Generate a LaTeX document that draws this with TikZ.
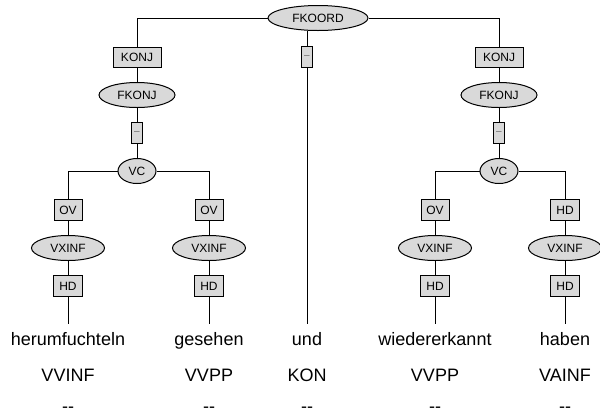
\documentclass[tikz,border=0pt]{standalone}
\usepackage{fontspec}
\setmainfont{Liberation Sans}
\usetikzlibrary{shapes.geometric}
\begin{document}
\begin{tikzpicture}[x=1pt,y=-1pt,line width=1pt,
  cat/.style={ellipse,draw,fill=black!15,inner sep=0pt,minimum height=25pt,font=\fontsize{12}{14}\selectfont},
  fn/.style={rectangle,draw,fill=black!15,inner sep=0pt,minimum height=21pt,font=\fontsize{12}{14}\selectfont},
  dashbox/.style={fn,minimum width=11pt,font=\fontsize{10}{12}\selectfont\color{black!60}},
  word/.style={font=\fontsize{18}{21}\selectfont,text height=13pt,text depth=4pt,inner xsep=0pt,inner ysep=8pt,anchor=base},
  tag/.style={font=\fontsize{18}{21}\selectfont,inner sep=0pt,anchor=base}]
\useasboundingbox (0,0) rectangle (600,416);
% top
\node[cat,minimum width=100pt] (fkoord) at (318,18) {FKOORD};
\node[fn,minimum width=48pt,minimum height=20pt] (konjL) at (137,57) {KONJ};
\node[dashbox] (dashM) at (307,57) {–};
\node[fn,minimum width=48pt,minimum height=20pt] (konjR) at (499,57) {KONJ};
% left conjunct
\node[cat,minimum width=76pt] (fkonjL) at (137,95) {FKONJ};
\node[dashbox] (dashL) at (137,133) {–};
\node[cat,minimum width=38pt] (vcL) at (137,171) {VC};
\node[fn,minimum width=28pt] (ovL1) at (68,210) {OV};
\node[cat,minimum width=73pt] (vxL1) at (68,248) {VXINF};
\node[fn,minimum width=29pt] (hdL1) at (68,286) {HD};
\node[fn,minimum width=28pt] (ovL2) at (209,210) {OV};
\node[cat,minimum width=73pt] (vxL2) at (209,248) {VXINF};
\node[fn,minimum width=29pt] (hdL2) at (209,286) {HD};
% right conjunct
\node[cat,minimum width=76pt] (fkonjR) at (499,95) {FKONJ};
\node[dashbox] (dashR) at (499,133) {–};
\node[cat,minimum width=38pt] (vcR) at (499,171) {VC};
\node[fn,minimum width=28pt] (ovR1) at (435,210) {OV};
\node[cat,minimum width=73pt] (vxR1) at (435,248) {VXINF};
\node[fn,minimum width=29pt] (hdR1) at (435,286) {HD};
\node[fn,minimum width=29pt] (hdR2) at (565,210) {HD};
\node[cat,minimum width=73pt] (vxR2) at (565,248) {VXINF};
\node[fn,minimum width=29pt] (hdR3) at (565,286) {HD};
% words
\node[word] (w1) at (68,345) {herumfuchteln};
\node[word] (w2) at (209,345) {gesehen};
\node[word] (w3) at (307,345) {und};
\node[word] (w4) at (435,345) {wiedererkannt};
\node[word] (w5) at (565,345) {haben};
\node[tag] (t1) at (68,381) {VVINF};
\node[tag] (t2) at (209,381) {VVPP};
\node[tag] (t3) at (307,381) {KON};
\node[tag] (t4) at (435,381) {VVPP};
\node[tag] (t5) at (565,381) {VAINF};
\node[tag] (d1) at (68,412) {-{}-};
\node[tag] (d2) at (209,412) {-{}-};
\node[tag] (d3) at (307,412) {-{}-};
\node[tag] (d4) at (435,412) {-{}-};
\node[tag] (d5) at (565,412) {-{}-};
% edges
\draw (fkoord) -| (konjL);
\draw (fkoord) -| (konjR);
\draw (fkoord.south -| dashM) -- (dashM);
\draw (dashM) -- (w3);
\draw (konjL) -- (fkonjL);
\draw (fkonjL) -- (dashL);
\draw (dashL) -- (vcL);
\draw (vcL) -| (ovL1);
\draw (vcL) -| (ovL2);
\draw (ovL1) -- (vxL1);
\draw (vxL1) -- (hdL1);
\draw (hdL1) -- (w1);
\draw (ovL2) -- (vxL2);
\draw (vxL2) -- (hdL2);
\draw (hdL2) -- (w2);
\draw (konjR) -- (fkonjR);
\draw (fkonjR) -- (dashR);
\draw (dashR) -- (vcR);
\draw (vcR) -| (ovR1);
\draw (vcR) -| (hdR2);
\draw (ovR1) -- (vxR1);
\draw (vxR1) -- (hdR1);
\draw (hdR1) -- (w4);
\draw (hdR2) -- (vxR2);
\draw (vxR2) -- (hdR3);
\draw (hdR3) -- (w5);
\end{tikzpicture}
\end{document}
